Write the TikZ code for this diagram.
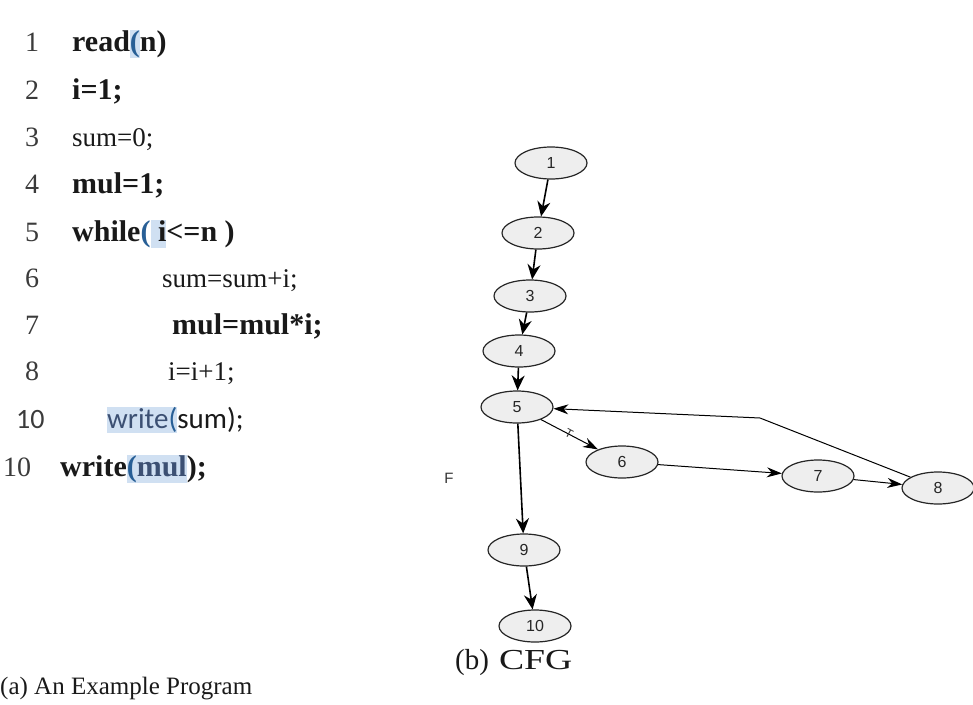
\documentclass[tikz,border=0pt]{standalone}
\usepackage{fontspec}
\setmainfont{Liberation Serif}
\newfontfamily\carlito{Carlito}
\newfontfamily\arial{Liberation Sans}
\usetikzlibrary{shapes.geometric,arrows.meta}
\definecolor{hl}{RGB}{208,224,242}
\definecolor{pblue}{RGB}{40,95,150}
\definecolor{ink}{RGB}{25,25,25}
\definecolor{wblue}{RGB}{60,80,115}
\definecolor{nfill}{RGB}{238,238,238}
\newcommand{\hlb}[1]{{\setlength{\fboxsep}{0pt}\colorbox{hl}{\vphantom{Ag(}#1}}}
\tikzset{
  code/.style={anchor=base west, inner sep=0pt, text=ink, font=\fontsize{27}{30}\selectfont},
  bcode/.style={anchor=base west, inner sep=0pt, text=ink, font=\fontsize{30}{32}\selectfont\bfseries},
  num/.style={anchor=base west, inner sep=0pt, text=ink!85, font=\fontsize{28}{30}\selectfont},
  captxt/.style={anchor=base west, inner sep=0pt, text=ink, font=\fontsize{25}{30}\selectfont},
  cfg/.style={ellipse, draw=black!85, line width=1.2pt, fill=nfill, minimum width=72pt, minimum height=32pt, inner sep=0pt, font=\arial\fontsize{16}{17}\selectfont, text=black!85},
  vedge/.style={line width=1.6pt, -{Stealth[length=15pt,width=13pt]}},
  hedge/.style={line width=1pt, -{Stealth[length=15pt,width=10pt]}},
  tinylbl/.style={font=\arial\fontsize{12}{13}\selectfont, text=black!80, inner sep=0pt}
}
\begin{document}
\begin{tikzpicture}[x=1pt,y=-1pt]
\useasboundingbox (0,0) rectangle (973,704);
% ---- program ----
\node[num] (l1) at (25,51) {1};
\node[bcode] (c1) at (72,51) {read\hlb{\textcolor{pblue}{(}}n)};
\node[num] (l2) at (25,99) {2};
\node[bcode] (c2) at (72,99) {i=1;};
\node[num] (l3) at (25,146) {3};
\node[code] (c3) at (72,146) {sum=0;};
\node[num] (l4) at (25,193) {4};
\node[bcode] (c4) at (72,193) {mul=1;};
\node[num] (l5) at (25,241) {5};
\node[bcode] (c5) at (72,241) {while\textcolor{pblue}{(}\hlb{\ i}{<}=n\ )};
\node[num] (l6) at (25,287) {6};
\node[code] (c6) at (162,287) {sum=sum+i;};
\node[num] (l7) at (25,334) {7};
\node[bcode] (c7) at (172,334) {mul=mul*i;};
\node[num] (l8) at (25,380) {8};
\node[code] (c8) at (168,380) {i=i+1;};
\node[num, font=\carlito\fontsize{28}{30}\selectfont] (l9) at (16,428) {10};
\node[code, font=\carlito\fontsize{29}{30}\selectfont] (c9) at (107,428) {\hlb{\textcolor{wblue}{write}\textcolor{pblue}{(}}sum);};
\node[num] (l10) at (3,476) {10};
\node[bcode] (c10) at (60,476) {write\hlb{\textcolor{pblue}{(}\textcolor{wblue}{mul}});};
\node[captxt] (capa) at (0,694) {(a) An Example Program};
% ---- CFG ----
\node[cfg] (n1) at (551,163) {1};
\node[cfg] (n2) at (538,233) {2};
\node[cfg] (n3) at (530,296) {3};
\node[cfg] (n4) at (519,351) {4};
\node[cfg] (n5) at (517,407) {5};
\node[cfg] (n6) at (622,462) {6};
\node[cfg] (n7) at (818,476) {7};
\node[cfg] (n8) at (938,488) {8};
\node[cfg] (n9) at (524,550) {9};
\node[cfg] (n10) at (535,626) {10};
\coordinate (bend) at (760,418);
\draw[vedge] (n1) -- (n2);
\draw[vedge] (n2) -- (n3);
\draw[vedge] (n3) -- (n4);
\draw[vedge] (n4) -- (n5);
\draw[vedge] (n5) -- (n9);
\draw[vedge] (n9) -- (n10);
\draw[hedge] (n5) -- (n6);
\draw[hedge] (n6) -- (n7);
\draw[hedge] (n7) -- (n8);
\draw[hedge] (n8) -- (bend) -- (n5);
\node[tinylbl, rotate=-28] (tl) at (569,434) {T};
\node[tinylbl, font=\arial\fontsize{15}{16}\selectfont] (fl) at (449,478) {F};
\node[captxt, font=\fontsize{29}{30}\selectfont] (capb) at (455,669) {(b)\hspace{10pt}\scalebox{1.3}[1]{CFG}};
\end{tikzpicture}
\end{document}
